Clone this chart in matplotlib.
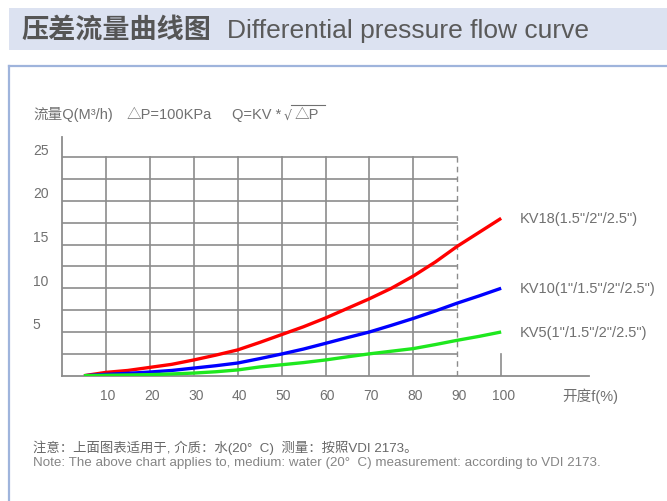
import matplotlib
matplotlib.use("Agg")
import matplotlib.pyplot as plt
from matplotlib.transforms import ScaledTranslation
from matplotlib.patches import Rectangle
from matplotlib.lines import Line2D

plt.rcParams['font.family'] = ['Liberation Sans', 'Noto Sans CJK SC', 'DejaVu Sans']

# ---- data ----
opening = [5, 10, 15, 20, 25, 30, 35, 40, 45, 50, 55, 60, 65, 70, 75, 80, 85, 90, 95, 100]
kv18 = [0, 0.38, 0.6, 0.95, 1.3, 1.8, 2.35, 2.95, 3.8, 4.7, 5.6, 6.6, 7.7, 8.8, 10.0,
        11.4, 13.0, 14.8, 16.4, 18.0]
kv10 = [0, 0.15, 0.27, 0.42, 0.6, 0.87, 1.14, 1.45, 1.95, 2.48, 3.05, 3.7, 4.36, 5.0,
        5.76, 6.55, 7.4, 8.3, 9.13, 10.0]
kv5 = [0, 0.05, 0.08, 0.12, 0.2, 0.30, 0.45, 0.66, 1.0, 1.25, 1.5, 1.8, 2.16, 2.5,
       2.8, 3.1, 3.56, 4.05, 4.5, 5.0]
series_labels = ['KV18(1.5"/2"/2.5")', 'KV10(1"/1.5"/2"/2.5")', 'KV5(1"/1.5"/2"/2.5")']
x_ticks = [10, 20, 30, 40, 50, 60, 70, 80, 90, 100]
y_ticks = [5, 10, 15, 20, 25]

GRID = '#8c8c8c'
TXT = '#707070'

fig = plt.figure(figsize=(6.67, 5.02), dpi=100)
W, H = 667, 502

def fx(px):
    return px / W

def fy(py):
    return 1 - py / H

# title band
fig.patches.append(Rectangle((fx(9), fy(51)), fx(667 - 9), (51 - 9) / H,
                             transform=fig.transFigure, facecolor='#dce2f1',
                             edgecolor='none', zorder=0))
fig.text(fx(21), fy(30), '压差流量曲线图', fontsize=19.5, fontweight='bold',
         color='#555555', va='center', ha='left', family=['Noto Sans CJK SC'])
fig.text(fx(227), fy(31), 'Differential pressure flow curve', fontsize=19,
         color='#5a5a5a', va='center', ha='left')

# frame lines
fig.lines.append(Line2D([fx(9), fx(667)], [fy(67), fy(67)], transform=fig.transFigure,
                        color='#9fb4dc', lw=1.6))
fig.lines.append(Line2D([fx(9), fx(9)], [fy(67), fy(502)], transform=fig.transFigure,
                        color='#9fb4dc', lw=1.6))

# axes
ax_left, ax_right = 62, 589
ax_bottom, ax_top = 376.7, 138
ax = fig.add_axes([fx(ax_left), fy(ax_bottom), (ax_right - ax_left) / W,
                   (ax_bottom - ax_top) / H])
ax.set_xlim(0, 120)
ax.set_ylim(0, 27.3)
ax.patch.set_visible(False)
for s in ['top', 'right']:
    ax.spines[s].set_visible(False)
for s in ['left', 'bottom']:
    ax.spines[s].set_color(GRID)
    ax.spines[s].set_linewidth(1.3)

# grid
for yv in [2.5 * i for i in range(1, 11)]:
    ax.plot([0, 90], [yv, yv], color=GRID, lw=1.2, zorder=1)
for xv in x_ticks[:-2]:
    ax.plot([xv, xv], [0, 25], color=GRID, lw=1.2, zorder=1)
ax.plot([90, 90], [0, 25], color=GRID, lw=1.0, ls=(0, (4, 3)), zorder=1)
ax.plot([100, 100], [0, 2.5], color=GRID, lw=1.2, zorder=1)

# curves
colors = ['#ff0000', '#0000ff', '#1ee81e']
for vals, c, lab in zip([kv18, kv10, kv5], colors, series_labels):
    ax.plot(opening, vals, color=c, lw=2.4, solid_capstyle='butt',
            solid_joinstyle='round', zorder=3)
    ax.text(x_ticks[-1] + 4.3, vals[-1], lab, color=TXT, fontsize=10.5,
            va='center', ha='left')

# ticks
ax.set_xticks(x_ticks)
ax.set_xticklabels([str(v) for v in x_ticks])
ax.set_yticks(y_ticks)
ax.set_yticklabels([str(v) for v in y_ticks])
ax.tick_params(axis='both', length=0, labelsize=10, labelcolor=TXT)
ax.tick_params(axis='x', pad=9)
ax.tick_params(axis='y', pad=21)
for lbl in ax.get_yticklabels():
    lbl.set_ha('left')
    lbl.set_transform(lbl.get_transform() + ScaledTranslation(0, 0.09, fig.dpi_scale_trans))
for lbl in ax.get_xticklabels():
    lbl.set_transform(lbl.get_transform() + ScaledTranslation(0.02, 0, fig.dpi_scale_trans))

ax.text(113.8, -2.2, '开度f(%)', color=TXT, fontsize=10.5, ha='left', va='center')

# header text
hy = fy(115)
fig.text(fx(33), hy, '流量Q(M³/h)', color=TXT, fontsize=10.5, va='center', ha='left')
fig.text(fx(127), hy, '△P=100KPa', color=TXT, fontsize=10.5, va='center', ha='left')
fig.text(fx(232), hy, 'Q=KV *', color=TXT, fontsize=10.5, va='center', ha='left')
fig.text(fx(284), fy(116), '√', color=TXT, fontsize=9, va='center', ha='left',
         family=['DejaVu Sans'])
fig.text(fx(295), hy, '△P', color=TXT, fontsize=10.5, va='center', ha='left')
fig.lines.append(Line2D([fx(291), fx(325)], [fy(106), fy(106)],
                        transform=fig.transFigure, color=TXT, lw=0.8))

# notes
fig.text(fx(33), fy(448), '注意：上面图表适用于, 介质：水(20°  C)  测量：按照VDI 2173。',
         color='#686868', fontsize=9.6, va='center', ha='left')
fig.text(fx(33), fy(463), 'Note: The above chart applies to, medium: water (20°  C) measurement: according to VDI 2173.',
         color='#858585', fontsize=9.6, va='center', ha='left')

fig.savefig('out.png', dpi=100)
